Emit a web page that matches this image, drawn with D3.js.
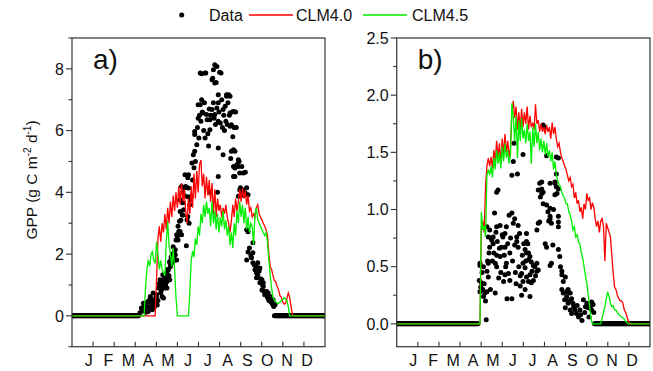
<!DOCTYPE html>
<html><head><meta charset="utf-8">
<script src="https://cdn.jsdelivr.net/npm/d3@7"></script>
<style>
body{margin:0;background:#fff}
svg{display:block}
text{font-family:"Liberation Sans",Arial,sans-serif;fill:#111}
</style>
</head><body>
<svg id="c" width="653" height="371"></svg>
<script>
// ---------------- DATA ----------------
const months = ["J","F","M","A","M","J","J","A","S","O","N","D"];
const yTicksA = [0,2,4,6,8];
const yMinorA = [-1,1,3,5,7,9];
const yTicksB = [0.0,0.5,1.0,1.5,2.0,2.5];
const yMinorB = [-0.25,0.25,0.75,1.25,1.75,2.25];
const legendLabels = ["Data","CLM4.0","CLM4.5"];
const panelLabels = ["a)","b)"];

// model series: values every 2 days beginning at the given start day (zero outside)
const clm40A_start = 120;
const clm40A = [0,1.2,2.5,2.9,2.4,3.0,2.7,3.3,2.8,3.5,3.0,3.7,3.2,3.9,3.4,4.0,3.5,4.2,3.6,4.3,3.7,4.1,3.4,3.0,3.8,3.3,4.2,3.5,4.6,3.8,4.7,4.0,4.9,5.05,4.2,4.6,3.8,4.5,3.9,4.4,3.7,4.3,3.3,4.1,3.2,3.8,3.4,3.6,3.2,3.5,3.3,3.6,3.2,3.0,2.7,3.1,3.6,3.2,3.8,3.4,3.7,4.1,3.7,4.15,3.8,4.05,3.6,3.9,3.4,3.5,3.2,3.3,3.2,3.5,3.6,3.3,3.2,3.1,3.0,2.9,2.8,2.6,2.0,1.6,1.5,1.3,1.15,1.1,0.95,0.85,0.65,0.6,0.45,0.38,0.4,0.55,0.74,0.6,0.3,0.05,0];
const clm45A_start = 104;
const clm45A = [0,0.9,1.5,1.8,1.6,2.0,2.08,1.8,1.7,2.4,2.0,1.5,1.8,1.5,1.4,1.3,2.4,3.06,2.3,2.0,1.6,2.2,1.5,0.6,0,0,0,0,0,0,0,0,0,0.8,1.8,2.1,1.9,2.5,2.3,2.9,2.6,3.3,3.0,3.6,3.2,3.7,3.3,3.5,2.9,3.7,3.0,3.4,2.8,3.3,2.7,3.2,2.9,3.4,2.8,3.1,2.6,2.9,2.3,2.7,2.2,3.0,2.6,3.4,3.0,3.7,3.2,3.6,3.0,3.5,2.8,3.2,2.7,3.0,2.9,2.3,3.3,3.5,3.1,3.0,2.9,2.8,2.7,2.6,2.7,2.4,1.8,1.3,0.9,0.6,0.5,0.45,0.42,0.4,0.45,0.5,0.52,0.58,0.55,0.5,0.3,0];
const clm40B_start = 120;
const clm40B = [0,0.85,0.9,0.8,1.2,1.38,1.45,1.38,1.46,1.36,1.52,1.42,1.6,1.45,1.58,1.4,1.62,1.48,1.66,1.5,1.6,1.45,1.55,1.85,1.95,1.8,1.9,1.7,1.85,1.7,1.88,1.72,1.85,1.75,1.9,1.7,1.82,1.72,1.76,1.7,1.92,1.75,1.78,1.68,1.75,1.68,1.72,1.66,1.74,1.68,1.72,1.62,1.76,1.66,1.72,1.62,1.55,1.58,1.5,1.45,1.42,1.38,1.35,1.3,1.25,1.28,1.2,1.22,1.1,1.15,1.05,1.08,0.98,1.02,0.92,1.05,1.0,1.14,1.08,1.1,1.0,1.06,1.02,0.92,0.85,0.9,0.8,0.9,0.92,0.85,0.55,0.88,0.84,0.8,0.76,0.6,0.44,0.32,0.3,0.25,0.22,0.2,0.2,0.18,0.12,0.1,0.06,0.02,0];
const clm45B_start = 120;
const clm45B = [0,0.98,0.82,0.86,0.76,1.3,1.35,1.3,1.38,1.28,1.45,1.35,1.52,1.4,1.5,1.36,1.55,1.42,1.58,1.45,1.52,1.4,1.48,1.93,1.8,1.6,1.82,1.45,1.78,1.6,1.8,1.62,1.7,1.58,1.75,1.6,1.68,1.4,1.72,1.55,1.75,1.58,1.68,1.52,1.62,1.5,1.6,1.48,1.58,1.46,1.52,1.42,1.5,1.35,1.42,1.3,1.25,1.22,1.2,1.15,1.12,1.1,1.05,1.05,0.98,0.95,0.9,0.82,0.85,0.76,0.78,0.72,0.7,0.62,0.58,0.5,0.42,0.35,0.25,0.15,0.05,0,0,0,0,0,0,0,0.05,0.1,0.15,0.22,0.28,0.24,0.18,0.15,0.16,0.12,0.12,0.1,0.08,0.07,0.06,0.05,0.04,0.02,0.01,0];

// observed data: [day of year, GPP]
const obsA = [[98,0.1],[100,0.25],[101,0.15],[103,0.41],[103,0.25],[104,0.3],[105,0.2],[106,0.35],[107,0.12],[108,0.3],[109,0.45],[110,0.14],[111,0.5],[112,0.28],[113,0.25],[113,0.63],[114,0.4],[115,0.36],[115,0.52],[116,0.2],[117,0.74],[118,0.45],[119,0.3],[120,0.46],[121,0.6],[122,0.68],[122,0.57],[123,0.35],[124,0.5],
[125,0.9],[126,1.05],[127,1.0],[127,1.17],[128,0.75],[129,0.84],[129,1.11],[130,0.63],[131,0.95],[131,1.33],[131,1.07],[132,0.58],[133,1.2],[134,1.07],[134,0.9],[135,1.0],[136,1.25],[137,1.39],[137,0.9],[137,1.11],[138,1.5],[139,1.23],[139,1.49],[140,1.3],[141,1.72],[141,1.76],[141,1.17],[142,1.6],[143,1.9],[144,1.92],[144,1.71],[145,2.0],[146,1.76],[146,2.24],[147,1.85],[148,2.1],[149,2.14],[149,1.98],[150,2.46],
[151,1.81],[151,2.63],[152,2.57],[153,2.46],[153,2.9],[154,2.73],[155,3.06],[156,2.73],[156,3.38],[156,3.76],[157,3.1],[158,2.63],[158,4.19],[159,3.27],[160,3.66],[160,4.02],[160,3.27],[161,3.44],[162,3.9],[163,4.15],[163,4.57],[164,4.19],[165,2.27],[166,3.11],[167,3.86],[167,3.22],[167,4.47],[168,4.14],[168,4.57],[169,3.0],[170,3.6],[171,3.76],[172,3.87],
[173,4.95],[174,4.4],[175,5.22],[176,4.8],[177,5.33],[177,5.97],[177,5.87],[178,5.0],[180,5.54],[181,6.1],[182,6.4],[182,6.84],[183,5.76],[184,6.5],[185,6.84],[185,7.87],[186,6.3],[187,7.0],[187,7.84],[188,6.6],[189,6.57],[190,6.0],[191,6.9],[192,5.76],[192,7.87],[193,7.87],[194,6.52],[195,6.35],[196,5.9],[197,5.5],[198,6.7],[199,6.35],[199,6.03],[199,4.0],[200,6.5],
[202,6.68],[202,7.65],[203,7.7],[204,6.9],[204,7.97],[205,6.4],[206,6.52],[206,7.54],[206,8.13],[207,6.2],[208,7.56],[209,6.73],[209,8.08],[210,4.0],[211,7.16],[211,6.9],[211,6.3],[211,5.44],[211,4.51],[212,6.6],[213,7.89],[214,6.25],[215,7.87],[216,7.0],[217,6.1],[218,6.68],[218,5.22],[219,6.5],[220,6.0],[221,6.79],[222,6.3],[223,7.11],[223,7.16],[224,6.2],[225,6.9],[226,7.16],[227,6.5],[228,6.57],[228,7.11],[228,6.14],[229,5.1],[230,6.19],[230,5.33],[231,6.6],[232,5.8],[233,5.38],[233,6.62],[233,4.84],[233,4.51],[234,6.1],[235,5.33],[235,4.79],[235,4.51],
[236,6.6],[237,6.1],[238,4.9],[240,4.84],[240,5.06],[240,3.87],[241,5.0],[242,4.08],[242,4.63],[243,4.15],[245,3.98],[245,4.84],[247,4.63],[247,4.08],[248,3.9],[250,4.65],[250,3.98],[252,4.15],[252,2.79],[252,1.81],[254,2.72],[254,2.07],[254,3.92],[256,2.2],[258,1.95],[259,1.88],[261,2.04],[261,2.37],[261,1.72],
[263,1.65],[264,1.49],[266,1.6],[266,1.39],[266,1.23],[268,1.72],[268,1.33],[270,1.45],[271,1.55],[271,1.07],[272,1.2],[274,1.17],[274,0.84],[275,1.0],[276,1.07],[276,0.95],[277,0.8],[278,0.68],[279,0.75],[281,0.79],[281,0.74],[282,0.6],[283,0.58],[283,0.74],[284,0.5],[286,0.63],[287,0.45],[288,0.52],[289,0.4],[290,0.52],[290,0.36],[291,0.3],[293,0.36]];
const obsA_zeroRuns = [[0,96],[292,365]];

const obsB = [[119,0.38],[120,0.51],[120,0.53],[120,0.28],[121,0.32],[122,0.36],[123,0.45],[124,0.3],[125,0.24],[125,0.5],[126,0.35],[127,0.27],[128,0.2],[129,0.035],[130,0.28],[130,0.46],[130,0.85],[131,0.55],[132,0.53],[132,0.41],[132,0.76],[133,0.62],[134,0.82],[134,0.67],[135,0.3],[136,0.75],[137,0.73],[138,0.55],[139,0.76],[139,0.7],[140,0.62],[141,0.97],[142,0.53],[142,0.27],[143,0.8],[144,0.85],[144,0.6],[144,0.5],[144,1.15],[145,0.72],[146,1.17],[147,0.4],[148,0.66],[149,0.86],[149,0.59],[150,0.45],[151,0.67],[152,0.78],[153,0.76],[154,0.37],[155,0.6],[156,0.79],[156,0.67],[156,0.43],[157,0.5],[158,0.85],[158,0.53],[159,0.22],[160,0.7],[161,0.44],[162,0.95],[163,0.62],[163,0.38],[164,0.75],[166,0.97],[166,0.22],[166,1.3],[167,0.55],[168,0.88],[168,1.42],[169,1.58],[170,0.92],[170,0.69],[171,0.45],[172,0.35],[173,0.76],[173,0.72],[174,1.31],[175,0.86],[175,0.67],[176,0.5],[177,0.79],[178,0.33],[178,0.42],[180,0.44],[180,0.25],[181,0.6],[182,0.53],[182,0.37],[182,1.48],[183,0.7],[185,0.49],[185,0.3],[185,0.65],[186,0.55],[187,0.41],[187,0.79],[187,0.72],[187,0.62],[189,0.7],[190,0.56],[190,0.37],[190,0.62],[192,0.59],[192,0.43],[192,0.24],[194,0.54],[194,0.36],[195,0.46],[197,0.51],[197,0.38],[199,0.5],[200,0.42],[202,0.53],[202,0.46],[202,0.82],[204,0.88],[204,0.47],[204,1.17],[206,0.89],[206,1.23],[207,1.11],[209,1.14],[209,1.24],[209,1.18],[211,1.05],[211,1.15],[211,1.74],[213,1.72],[214,0.7],[216,1.04],[216,0.67],[216,1.47],[218,0.98],[219,0.9],[221,0.94],[221,1.01],[221,0.92],[221,1.23],[221,0.51],[223,0.88],[223,0.53],[225,0.69],[226,1.0],[228,1.24],[228,1.13],[228,1.23],[230,1.2],[230,1.31],[230,1.46],[231,1.14],[233,1.45],[233,0.94],[233,0.85],[233,0.89],[233,0.65],[233,1.18],[235,0.59],[236,0.5],[238,0.46],[238,0.43],[238,0.3],[240,0.37],[240,0.27],[242,0.21],[243,0.14],[243,0.41],[245,0.24],[245,0.28],[247,0.3],[247,0.18],[248,0.2],[250,0.27],[250,0.12],[252,0.22],[252,0.09],[254,0.18],[255,0.15],[257,0.12],[259,0.09],[260,0.16],[262,0.06],[264,0.12],[265,0.08],[267,0.03],[269,0.21],[271,0.1],[272,0.15],[274,0.18],[276,0.14],[277,0.06],[279,0.15],[281,0.19],[281,0.12],[283,0.17],[284,0.1]];
const obsB_zeroRuns = [[0,117],[285,365]];

// ---------------- DRAW ----------------
const svg = d3.select("#c");
const RED = "#ff0000", GREEN = "#00ee00";

function seriesPoints(start, vals){
  const pts = [[0,0]];
  vals.forEach((v,i)=>pts.push([start+2*i, v]));
  pts.push([365,0]);
  return pts;
}
function zeroDots(runs){
  const out=[];
  runs.forEach(([a,b])=>{ for(let d=a; d<=b; d++) out.push([d,0]); });
  return out;
}

const panels = [
  {left:72, right:325, top:38, bottom:346.7, yDom:[-1,9], ticks:yTicksA, minor:yMinorA, fmt:d3.format("d"),
   obs:obsA, zero:obsA_zeroRuns, l40:seriesPoints(clm40A_start,clm40A), l45:seriesPoints(clm45A_start,clm45A), label:panelLabels[0]},
  {left:396.7, right:650, top:38, bottom:346.7, yDom:[-0.2,2.5], ticks:yTicksB, minor:yMinorB, fmt:d3.format(".1f"),
   obs:obsB, zero:obsB_zeroRuns, l40:seriesPoints(clm40B_start,clm40B), l45:seriesPoints(clm45B_start,clm45B), label:panelLabels[1]}
];

panels.forEach(p=>{
  const x = d3.scaleLinear().domain([0,365]).range([p.left,p.right]);
  const y = d3.scaleLinear().domain(p.yDom).range([p.bottom,p.top]);
  const g = svg.append("g");
  const cp = "clip"+Math.round(p.left);
  svg.append("clipPath").attr("id",cp).append("rect")
    .attr("x",p.left).attr("y",p.top).attr("width",p.right-p.left).attr("height",p.bottom-p.top);
  const plot = g.append("g").attr("clip-path",`url(#${cp})`);

  // observations
  const allObs = zeroDots(p.zero).concat(p.obs);
  plot.append("g").selectAll("circle").data(allObs).join("circle")
    .attr("cx",d=>x(d[0])).attr("cy",d=>y(d[1])).attr("r",2.5).attr("fill","#000");

  const line = d3.line().x(d=>x(d[0])).y(d=>y(d[1]));
  plot.append("path").attr("d",line(p.l40)).attr("fill","none").attr("stroke",RED).attr("stroke-width",1.3);
  plot.append("path").attr("d",line(p.l45)).attr("fill","none").attr("stroke",GREEN).attr("stroke-width",1.3);

  // frame
  g.append("rect").attr("x",p.left).attr("y",p.top).attr("width",p.right-p.left).attr("height",p.bottom-p.top)
    .attr("fill","none").attr("stroke","#333").attr("stroke-width",1.2);

  // y axis (outward ticks)
  const ya = g.append("g");
  ya.selectAll("line.maj").data(p.ticks).join("line").attr("class","maj")
    .attr("x1",p.left-6).attr("x2",p.left).attr("y1",d=>y(d)).attr("y2",d=>y(d)).attr("stroke","#333").attr("stroke-width",1.1);
  ya.selectAll("line.min").data(p.minor.filter(v=>v>=p.yDom[0]&&v<=p.yDom[1])).join("line").attr("class","min")
    .attr("x1",p.left-3.5).attr("x2",p.left).attr("y1",d=>y(d)).attr("y2",d=>y(d)).attr("stroke","#333").attr("stroke-width",1.1);
  ya.selectAll("text").data(p.ticks).join("text")
    .attr("x",p.left-8).attr("y",d=>y(d)).attr("dy","0.36em").attr("text-anchor","end")
    .attr("font-size",16).text(d=>p.fmt(d));

  // x axis (inward ticks at month boundaries)
  const mt = d3.range(1,12).map(k=>k*365/12);
  g.selectAll("line.xt").data(mt).join("line").attr("class","xt")
    .attr("x1",d=>x(d)).attr("x2",d=>x(d)).attr("y1",p.bottom).attr("y2",p.bottom-5).attr("stroke","#333").attr("stroke-width",1.1);
  const xm = d3.scalePoint().domain(d3.range(12)).range([x(24),x(339)]);
  g.selectAll("text.mon").data(months).join("text").attr("class","mon")
    .attr("x",(d,i)=>xm(i)).attr("y",p.bottom+19).attr("text-anchor","middle").attr("font-size",16).text(d=>d);

  g.append("text").attr("x",p.left+21).attr("y",p.top+31).attr("font-size",28).text(p.label);
});

// y-axis title
const yt = svg.append("text").attr("transform","translate(37,180) rotate(-90)").attr("text-anchor","middle").attr("font-size",15.5);
yt.append("tspan").text("GPP (g C m");
yt.append("tspan").attr("dy",-6).attr("font-size",10).text("-2");
yt.append("tspan").attr("dy",6).text(" d");
yt.append("tspan").attr("dy",-6).attr("font-size",10).text("-1");
yt.append("tspan").attr("dy",6).text(")");

// legend
const lg = svg.append("g");
lg.append("circle").attr("cx",181.7).attr("cy",15).attr("r",2.5).attr("fill","#000");
lg.append("text").attr("x",209).attr("y",21).attr("font-size",16).text(legendLabels[0]);
lg.append("line").attr("x1",249).attr("x2",293).attr("y1",15).attr("y2",15).attr("stroke",RED).attr("stroke-width",1.3);
lg.append("text").attr("x",296).attr("y",21).attr("font-size",16).text(legendLabels[1]);
lg.append("line").attr("x1",363).attr("x2",407).attr("y1",15).attr("y2",15).attr("stroke",GREEN).attr("stroke-width",1.3);
lg.append("text").attr("x",412).attr("y",21).attr("font-size",16).text(legendLabels[2]);
</script>
</body></html>
